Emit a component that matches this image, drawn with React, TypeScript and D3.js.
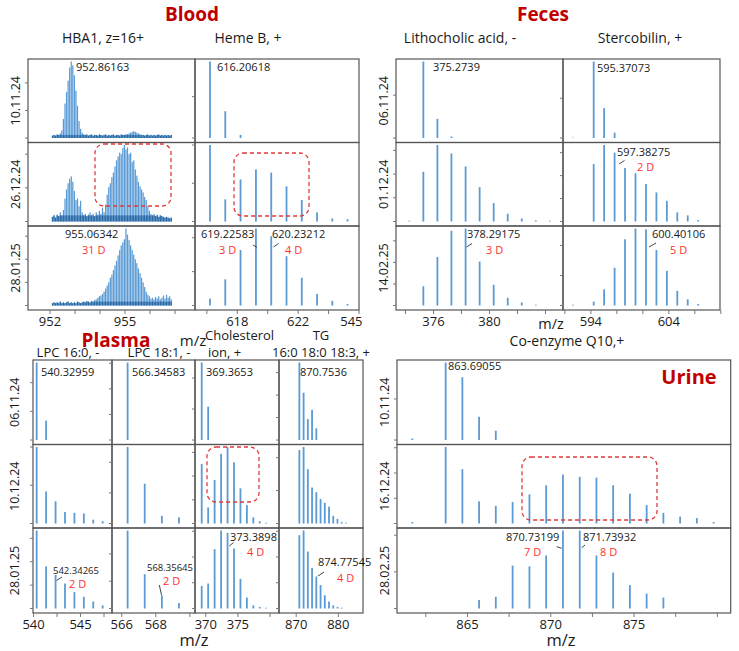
import React from "react";
import * as d3 from "d3";

// ---------------- DATA ----------------
// HBA1 (z=16+) profile, sampled every 1/16 m/z from 952.10
const hbaStart = 952.1;
const hbaStep = 0.0625;
const hba_10_11_24 = [3,4,3,5,4,6,10,25,45,60,75,92,100,95,82,62,42,22,12,7,5,4,5,3,4,5,3,4,4,3,5,4,3,4,5,3,4,3,4,5,3,4,4,3,5,4,4,5,5,6,7,8,9,8,7,6,5,4,4,3,4,5,3,4,3,4,3,4,5,3,4,3,4,3,4,3,4];
const hba_26_12_24 = [6,8,5,9,7,12,8,15,30,42,50,56,59,52,40,28,30,20,27,12,8,10,7,9,12,8,10,7,12,9,14,10,18,12,22,35,45,50,58,64,72,80,85,90,88,96,100,94,97,88,90,78,80,68,60,52,46,42,38,32,28,20,14,10,8,10,7,9,6,8,7,6,5,6,5,4,5];
const hba_28_01_25 = [3,4,3,4,3,5,3,4,3,4,5,3,4,3,4,3,5,4,3,4,5,4,6,5,4,6,5,7,8,10,12,13,15,18,22,26,30,36,40,46,52,58,65,72,78,82,86,100,92,85,78,72,66,60,55,48,42,36,30,24,18,14,12,9,10,8,11,9,12,8,10,13,9,14,10,12,8];
const hbaYStep = [36, 44, 30];
const hbaTicks = [952, 953, 954, 955, 956, 957];
const hbaTickLabels = ["952", "", "", "955", "", ""];

const hemeMz = [616.206, 617.209, 618.213, 619.226, 620.232, 621.236, 622.239, 623.242, 624.246, 625.249];
const heme_10_11_24 = [100, 35, 4, 0, 0, 0, 0, 0, 0, 0];
const heme_26_12_24 = [100, 29, 55, 68, 64, 46, 28, 12, 4, 3];
const heme_28_01_25 = [9, 34, 72, 100, 90, 64, 36, 15, 6, 2];
const hemeYStep = [54, 50, 44];
const hemeTicks = [616, 618, 620, 622, 624, 626];
const hemeTickLabels = ["", "618", "", "622", "", ""];
const hemeExtraLabel = { v: 625.5, t: "545" };

const lithoMz = [374.27, 375.274, 376.277, 377.28, 378.292, 379.295, 380.298, 381.301, 382.304, 383.307, 384.31];
const litho_06_11_24 = [0, 100, 25, 2, 0, 0, 0, 0, 0, 0, 0];
const litho_01_12_24 = [1, 65, 100, 89, 72, 45, 24, 10, 4, 1.5, 1];
const litho_14_02_25 = [0, 25, 63, 97, 100, 57, 27, 10, 4, 1, 0];
const lithoYStep = [56, 31, 28];
const lithoTicks = [374, 376, 378, 380, 382, 384];
const lithoTickLabels = ["", "376", "", "380", "", ""];

const sterMz = [593.37, 594.37, 595.371, 596.374, 597.383, 598.386, 599.39, 600.401, 601.404, 602.41, 603.413, 604.416, 605.42];
const ster_06_11_24 = [0.6, 0, 100, 39, 7, 0, 0, 0, 0, 0, 0, 0, 0];
const ster_01_12_24 = [0, 0, 75, 100, 90, 70, 63, 49, 38, 27, 12, 8, 2];
const ster_14_02_25 = [1, 0, 5, 21, 49, 86, 100, 99, 72, 45, 19, 8, 2];
const sterYStep = [52, 30, 39];
const sterTicks = [592.6, 595.1, 597.6, 600.1, 602.6, 605.1, 607.6];
const sterTickLabels = ["", "594", "", "", "604", "", ""];

const lpc16Mz = [540.33, 541.333, 542.343, 543.346, 544.349, 545.352, 546.355, 547.358];
const lpc16_06_11_24 = [100, 25, 0, 0, 0, 0, 0, 0];
const lpc16_10_12_24 = [100, 42, 29, 15, 14, 13, 5, 3];
const lpc16_28_01_25 = [100, 54, 43, 32, 21, 15, 9, 4];
const lpc16YStep = [37, 50, 30];
const lpc16Ticks = [540, 542.5, 545, 547.5];
const lpc16TickLabels = ["540", "", "545", ""];

const lpc18Mz = [566.346, 567.349, 568.356, 569.359];
const lpc18_06_11_24 = [100, 0, 0, 0];
const lpc18_10_12_24 = [100, 52, 10, 8];
const lpc18_28_01_25 = [100, 44, 17, 7];
const lpc18YStep = [33, 40, 35];
const lpc18Ticks = [566, 568, 570];
const lpc18TickLabels = ["566", "568", ""];

const cholMz = [369.365, 370.369, 371.375, 372.382, 373.39, 374.393, 375.396, 376.399, 377.402, 378.405, 379.408];
const chol_06_11_24 = [100, 43, 0, 0, 0, 0, 0, 0, 0, 0, 0];
const chol_10_12_24 = [78, 21, 57, 91, 100, 80, 46, 24, 8, 3, 1];
const chol_28_01_25 = [29, 32, 76, 100, 97, 77, 38, 14, 4, 2, 1];
const cholYStep = [40, 31, 33];
const cholTicks = [370, 375, 380];
const cholTickLabels = ["370", "375", ""];

const tgMz = [870.754, 871.757, 872.76, 873.764, 874.775, 875.779, 876.782, 877.785, 878.789, 879.792, 880.795, 881.798];
const tg_06_11_24 = [100, 61, 27, 39, 15, 0, 0, 0, 0, 0, 0, 0];
const tg_10_12_24 = [96, 100, 71, 47, 41, 32, 27, 22, 10, 6, 2, 1];
const tg_28_01_25 = [94, 100, 73, 52, 41, 30, 17, 9, 4, 2, 1, 0];
const tgYStep = [29, 43, 33];
const tgTicks = [870, 880];
const tgTickLabels = ["870", "880"];

const q10Mz = [861.69, 862.69, 863.691, 864.694, 865.697, 866.7, 867.71, 868.72, 869.725, 870.732, 871.739, 872.742, 873.745, 874.75, 875.755, 876.76, 877.765, 878.77, 879.775];
const q10_10_11_24 = [2, 0, 100, 81, 30, 12, 0, 0, 0, 0, 0, 0, 0, 0, 0, 0, 0, 0, 0];
const q10_16_12_24 = [2, 0, 100, 71, 29, 23, 28, 38, 50, 64, 61, 60, 50, 39, 24, 14, 9, 7, 2];
const q10_28_02_25 = [0, 0, 0, 0, 11, 15, 55, 54, 68, 100, 100, 68, 46, 30, 19, 14, 0, 0, 0];
const q10YStep = [53, 33, 47];
const q10Ticks = [862.5, 865, 867.5, 870, 872.5, 875, 877.5, 880];
const q10TickLabels = ["", "865", "", "870", "", "875", "", ""];

const bloodDates = ["10.11.24", "26.12.24", "28.01.25"];
const fecesDates = ["06.11.24", "01.12.24", "14.02.25"];
const plasmaDates = ["06.11.24", "10.12.24", "28.01.25"];
const urineDates = ["10.11.24", "16.12.24", "28.02.25"];

// ---------------- STYLE ----------------
const FONT = "'Open Sans', 'Noto Sans', sans-serif";
const BAR = "#5b9bd5";
const DARK = "#2c6aa6";
const TITLE_RED = "#c00000";
const D_RED = "#ff3030";
const TXT = "#1a1a1a";

type PanelProps = {
  left: number; right: number; top: number; bottom: number;
  domain: [number, number];
  mz: number[]; values: number[];
  yStep: number;
  barW?: number; floor?: number;
  ticks?: number[]; tickLabels?: string[]; labelDy?: number;
  extra?: { v: number; t: string };
};

function Panel(p: PanelProps) {
  const x = d3.scaleLinear().domain(p.domain).range([p.left, p.right]);
  const y = d3.scaleLinear().domain([0, 100]).range([p.bottom - 4.5, p.top + 2.5]);
  const bw = p.barW ?? 1.8;
  const yt = d3.range(0, 100.01, p.yStep);
  const ld = p.labelDy ?? 16;
  return (
    <g>
      {p.values.map((v, i) =>
        v > 0 ? (
          <rect key={"b" + i} x={x(p.mz[i]) - bw / 2} y={y(v)} width={bw} height={y(0) - y(v)} fill={BAR} />
        ) : null
      )}
      {p.floor
        ? p.values.map((v, i) => {
            const f = Math.min(v, p.floor as number);
            return f > 0 ? (
              <rect key={"f" + i} x={x(p.mz[i]) - bw / 2} y={y(f)} width={bw} height={y(0) - y(f)} fill={DARK} />
            ) : null;
          })
        : null}
      <rect x={p.left} y={p.top} width={p.right - p.left} height={p.bottom - p.top} fill="none" stroke="#555" strokeWidth={1.2} />
      {yt.map((t, i) => (
        <line key={"yt" + i} x1={p.left - 3} x2={p.left} y1={y(t)} y2={y(t)} stroke="#777" strokeWidth={1} />
      ))}
      {p.ticks
        ? p.ticks.map((t, i) => (
            <g key={"xt" + i}>
              <line x1={x(t)} x2={x(t)} y1={p.bottom} y2={p.bottom + 4} stroke="#777" strokeWidth={1} />
              {p.tickLabels && p.tickLabels[i] ? (
                <text x={x(t)} y={p.bottom + ld} textAnchor="middle" fontSize={13} fill={TXT} fontFamily={FONT}>
                  {p.tickLabels[i]}
                </text>
              ) : null}
            </g>
          ))
        : null}
      {p.extra ? (
        <text x={x(p.extra.v)} y={p.bottom + ld} textAnchor="middle" fontSize={13} fill={TXT} fontFamily={FONT}>
          {p.extra.t}
        </text>
      ) : null}
    </g>
  );
}

function T(props: { x: number; y: number; s?: number; c?: string; a?: string; w?: string | number; children: React.ReactNode }) {
  return (
    <text x={props.x} y={props.y} fontSize={props.s ?? 11} fill={props.c ?? TXT} textAnchor={(props.a as any) ?? "start"} fontWeight={props.w ?? "normal"} fontFamily={FONT}>
      {props.children}
    </text>
  );
}

function DateLabel({ x, y, t }: { x: number; y: number; t: string }) {
  return (
    <text transform={`translate(${x},${y}) rotate(-90)`} textAnchor="middle" dominantBaseline="central" fontSize={12.5} fill={TXT} fontFamily={FONT}>
      {t}
    </text>
  );
}

function Leader({ x1, y1, x2, y2 }: { x1: number; y1: number; x2: number; y2: number }) {
  return <line x1={x1} y1={y1} x2={x2} y2={y2} stroke="#444" strokeWidth={1} />;
}

function DashBox({ x, y, w, h }: { x: number; y: number; w: number; h: number }) {
  return <rect x={x} y={y} width={w} height={h} rx={9} ry={9} fill="none" stroke="#e03a3a" strokeWidth={1.3} strokeDasharray="4,3" />;
}

export default function App() {
  const hbaMz = d3.range(hba_10_11_24.length).map((i) => hbaStart + i * hbaStep);
  const bRows = [59, 142.5, 226, 310];
  const pRows = [360, 444.5, 528, 613];

  const hbaRows = [hba_10_11_24, hba_26_12_24, hba_28_01_25];
  const hbaFloor = [4, 8, 5];
  const hemeRows = [heme_10_11_24, heme_26_12_24, heme_28_01_25];
  const lithoRows = [litho_06_11_24, litho_01_12_24, litho_14_02_25];
  const sterRows = [ster_06_11_24, ster_01_12_24, ster_14_02_25];
  const lpc16Rows = [lpc16_06_11_24, lpc16_10_12_24, lpc16_28_01_25];
  const lpc18Rows = [lpc18_06_11_24, lpc18_10_12_24, lpc18_28_01_25];
  const cholRows = [chol_06_11_24, chol_10_12_24, chol_28_01_25];
  const tgRows = [tg_06_11_24, tg_10_12_24, tg_28_01_25];
  const q10Rows = [q10_10_11_24, q10_16_12_24, q10_28_02_25];

  return (
    <svg width={739} height={651} style={{ position: "absolute", left: 0, top: 0, background: "#fff" }} fontFamily={FONT}>
      <rect x={0} y={0} width={739} height={651} fill="#fff" />

      {/* ---------- BLOOD ---------- */}
      <T x={192} y={21} s={19} c={TITLE_RED} a="middle" w="bold">Blood</T>
      <T x={103} y={43} s={14} a="middle">HBA1, z=16+</T>
      <T x={248} y={43} s={14} a="middle">Heme B, +</T>
      {bloodDates.map((d, r) => (
        <DateLabel key={d + r} x={15} y={(bRows[r] + bRows[r + 1]) / 2} t={d} />
      ))}
      {hbaRows.map((v, r) => (
        <Panel key={"hba" + r} left={28} right={195} top={bRows[r]} bottom={bRows[r + 1]} domain={[951.12, 957.8]}
          mz={hbaMz} values={v} yStep={hbaYStep[r]} barW={1.25} floor={hbaFloor[r]}
          ticks={r === 2 ? hbaTicks : undefined} tickLabels={hbaTickLabels} />
      ))}
      {hemeRows.map((v, r) => (
        <Panel key={"heme" + r} left={195} right={359} top={bRows[r]} bottom={bRows[r + 1]} domain={[615.22, 626.0]}
          mz={hemeMz} values={v} yStep={hemeYStep[r]}
          ticks={r === 2 ? hemeTicks : undefined} tickLabels={hemeTickLabels} extra={r === 2 ? hemeExtraLabel : undefined} />
      ))}
      <T x={76} y={71}>952.86163</T>
      <T x={217} y={71}>616.20618</T>
      <T x={65} y={238}>955.06342</T>
      <T x={82} y={254} c={D_RED}>31 D</T>
      <T x={201} y={238}>619.22583</T>
      <T x={272} y={238}>620.23212</T>
      <Leader x1={253} y1={245} x2={257} y2={247.5} />
      <Leader x1={273.5} y1={247} x2={278.5} y2={243.5} />
      <T x={219} y={254} c={D_RED}>3 D</T>
      <T x={285} y={254} c={D_RED}>4 D</T>
      <DashBox x={95} y={144} w={76} h={62} />
      <DashBox x={234} y={153} w={75} h={63} />

      {/* ---------- FECES ---------- */}
      <T x={543} y={21} s={19} c={TITLE_RED} a="middle" w="bold">Feces</T>
      <T x={460} y={43} s={14} a="middle">Lithocholic acid, -</T>
      <T x={640} y={43} s={14} a="middle">Stercobilin, +</T>
      {fecesDates.map((d, r) => (
        <DateLabel key={d + r} x={383} y={(bRows[r] + bRows[r + 1]) / 2} t={d} />
      ))}
      {lithoRows.map((v, r) => (
        <Panel key={"litho" + r} left={396} right={563} top={bRows[r]} bottom={bRows[r + 1]} domain={[373.32, 385.25]}
          mz={lithoMz} values={v} yStep={lithoYStep[r]}
          ticks={r === 2 ? lithoTicks : undefined} tickLabels={lithoTickLabels} />
      ))}
      {sterRows.map((v, r) => (
        <Panel key={"ster" + r} left={563} right={720} top={bRows[r]} bottom={bRows[r + 1]} domain={[592.42, 607.52]}
          mz={sterMz} values={v} yStep={sterYStep[r]}
          ticks={r === 2 ? sterTicks : undefined} tickLabels={sterTickLabels} />
      ))}
      <T x={433} y={71}>375.2739</T>
      <T x={597} y={72}>595.37073</T>
      <T x={617} y={156}>597.38275</T>
      <Leader x1={619} y1={164} x2={624.5} y2={160.5} />
      <T x={637} y={171} c={D_RED}>2 D</T>
      <T x={467} y={238}>378.29175</T>
      <Leader x1={466.5} y1={247} x2={472} y2={243.5} />
      <T x={486} y={254} c={D_RED}>3 D</T>
      <T x={652} y={238}>600.40106</T>
      <Leader x1={649} y1={247} x2={656} y2={243} />
      <T x={670} y={254} c={D_RED}>5 D</T>
      <T x={551} y={329} s={14.5} a="middle">m/z</T>

      {/* ---------- PLASMA ---------- */}
      <T x={116} y={347} s={19} c={TITLE_RED} a="middle" w="bold">Plasma</T>
      <T x={193} y={346} s={15} a="middle">m/z</T>
      <T x={68} y={357} s={13} a="middle">LPC 16:0, -</T>
      <T x={159} y={357} s={13} a="middle">LPC 18:1, -</T>
      <T x={205} y={340} s={13}>Cholesterol</T>
      <T x={208} y={357} s={13}>ion, +</T>
      <T x={321} y={340} s={13} a="middle">TG</T>
      <T x={321} y={357} s={13} a="middle">16:0 18:0 18:3, +</T>
      {plasmaDates.map((d, r) => (
        <DateLabel key={d + r} x={14} y={(pRows[r] + pRows[r + 1]) / 2} t={d} />
      ))}
      {lpc16Rows.map((v, r) => (
        <Panel key={"lpc16" + r} left={33} right={112} top={pRows[r]} bottom={pRows[r + 1]} domain={[539.94, 548.35]}
          mz={lpc16Mz} values={v} yStep={lpc16YStep[r]}
          ticks={r === 2 ? lpc16Ticks : undefined} tickLabels={lpc16TickLabels} />
      ))}
      {lpc18Rows.map((v, r) => (
        <Panel key={"lpc18" + r} left={112} right={195} top={pRows[r]} bottom={pRows[r + 1]} domain={[565.43, 570.3]}
          mz={lpc18Mz} values={v} yStep={lpc18YStep[r]}
          ticks={r === 2 ? lpc18Ticks : undefined} tickLabels={lpc18TickLabels} />
      ))}
      {cholRows.map((v, r) => (
        <Panel key={"chol" + r} left={195} right={279} top={pRows[r]} bottom={pRows[r + 1]} domain={[368.32, 381.4]}
          mz={cholMz} values={v} yStep={cholYStep[r]}
          ticks={r === 2 ? cholTicks : undefined} tickLabels={cholTickLabels} />
      ))}
      {tgRows.map((v, r) => (
        <Panel key={"tg" + r} left={279} right={363} top={pRows[r]} bottom={pRows[r + 1]} domain={[865.92, 885.85]}
          mz={tgMz} values={v} yStep={tgYStep[r]}
          ticks={r === 2 ? tgTicks : undefined} tickLabels={tgTickLabels} />
      ))}
      <T x={41} y={376}>540.32959</T>
      <T x={132} y={376}>566.34583</T>
      <T x={206} y={376}>369.3653</T>
      <T x={300} y={376}>870.7536</T>
      <T x={53} y={574} s={9.5}>542.34265</T>
      <Leader x1={56.5} y1={580.5} x2={62} y2={577} />
      <T x={69} y={588} c={D_RED}>2 D</T>
      <T x={147} y={571} s={9.5}>568.35645</T>
      <Leader x1={159.3} y1={585} x2={161.5} y2={595} />
      <T x={163} y={585} c={D_RED}>2 D</T>
      <T x={230} y={541}>373.3898</T>
      <Leader x1={229.3} y1={546} x2={233.5} y2={542.5} />
      <T x={247} y={556} c={D_RED}>4 D</T>
      <T x={318} y={566}>874.77545</T>
      <Leader x1={318} y1={576} x2={324} y2={572} />
      <T x={337} y={582} c={D_RED}>4 D</T>
      <DashBox x={207} y={447} w={52} h={55} />
      <T x={194} y={646} s={16.5} a="middle">m/z</T>

      {/* ---------- URINE ---------- */}
      <T x={567} y={346} s={14} a="middle">Co-enzyme Q10,+</T>
      {urineDates.map((d, r) => (
        <DateLabel key={d + r} x={384} y={(pRows[r] + pRows[r + 1]) / 2} t={d} />
      ))}
      {q10Rows.map((v, r) => (
        <Panel key={"q10" + r} left={397} right={730.7} top={pRows[r]} bottom={pRows[r + 1]} domain={[860.77, 880.8]}
          mz={q10Mz} values={v} yStep={q10YStep[r]}
          ticks={r === 2 ? q10Ticks : undefined} tickLabels={q10TickLabels} />
      ))}
      <T x={689} y={384} s={20} c={TITLE_RED} a="middle" w="bold">Urine</T>
      <T x={448} y={370}>863.69055</T>
      <T x={506} y={541}>870.73199</T>
      <Leader x1={556.7} y1={546.7} x2={561.7} y2={548.3} />
      <T x={583} y={541}>871.73932</T>
      <Leader x1={581.7} y1={547.7} x2={585} y2={545} />
      <T x={524} y={556} c={D_RED}>7 D</T>
      <T x={600} y={556} c={D_RED}>8 D</T>
      <DashBox x={522} y={457} w={135} h={63} />
      <T x={561} y={646} s={16.5} a="middle">m/z</T>
    </svg>
  );
}
